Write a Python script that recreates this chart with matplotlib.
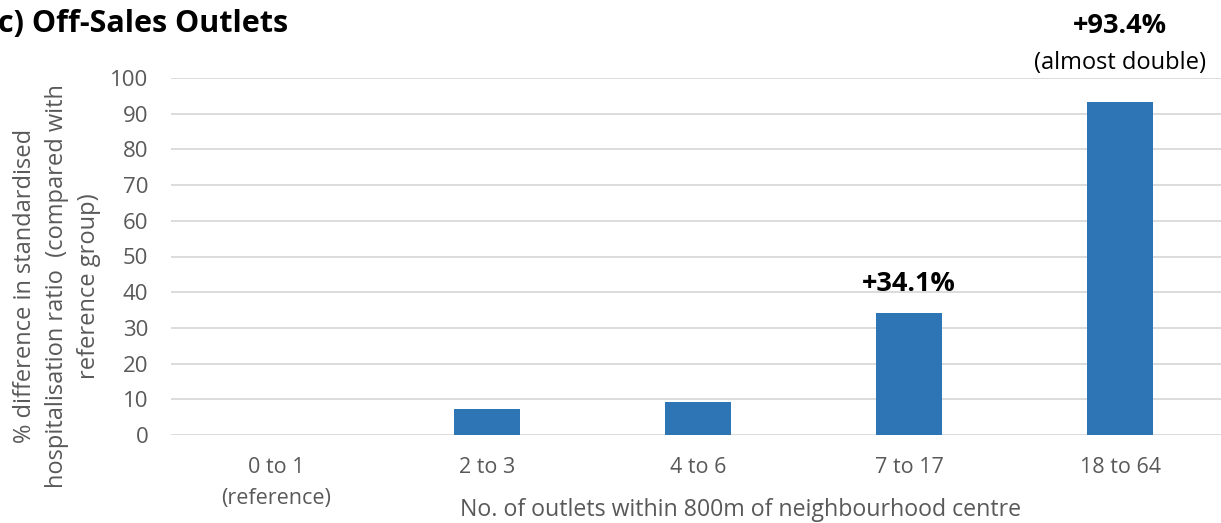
import matplotlib.pyplot as plt

categories = ["0 to 1\n(reference)", "2 to 3", "4 to 6", "7 to 17", "18 to 64"]
values = [0, 7.3, 9.3, 34.1, 93.4]
yticks = [0, 10, 20, 30, 40, 50, 60, 70, 80, 90, 100]

plt.rcParams['font.family'] = ['Open Sans', 'DejaVu Sans']

W, H = 1221, 523
fig = plt.figure(figsize=(W / 100, H / 100), dpi=100)

# plot area in pixels: left 170.5, 0 line at y=435, 100 line at y=78
left, bottom, top = 170.5, 435, 78
ax = fig.add_axes([left / W, 1 - bottom / H, (W - left) / W, (bottom - top) / H])

x = range(len(values))
ax.bar(x, values, width=0.313, color='#2E75B6', zorder=3)

ax.set_xlim(-0.5, -0.5 + (W - left) / 211)
ax.set_ylim(0, 100)
ax.set_yticks(yticks)
ax.set_xticks(list(x))
ax.set_xticklabels(categories, fontsize=15.5, color='#595959', linespacing=1.6)
ax.tick_params(axis='y', labelsize=16, labelcolor='#595959', length=0, pad=16)
ax.tick_params(axis='x', length=0, pad=16)
ax.grid(axis='y', color='#D9D9D9', linewidth=1.3, zorder=0)
for s in ax.spines.values():
    s.set_visible(False)

fig.text(57 / W, 1 - 286 / H,
         "% difference in standardised\nhospitalisation ratio  (compared with\nreference group)",
         rotation=90, ha='center', va='center', multialignment='center',
         fontsize=17, color='#595959', linespacing=1.42)

fig.text(741 / W, 1 - 510 / H, "No. of outlets within 800m of neighbourhood centre",
         ha='center', va='center', fontsize=16.7, color='#595959')

fig.text(-2 / W, 1 - 24 / H, "c) Off-Sales Outlets", ha='left', va='center',
         fontsize=22, fontweight='bold', color='black')

ax.text(3, 42.3, "+34.1%", ha='center', va='center', fontsize=19.5, fontweight='bold')
ax.text(4, 114.6, "+93.4%", ha='center', va='center', fontsize=19.5, fontweight='bold', clip_on=False)
ax.text(4, 104.3, "(almost double)", ha='center', va='center', fontsize=17, color='black', clip_on=False)

fig.savefig("out.png", dpi=100)
